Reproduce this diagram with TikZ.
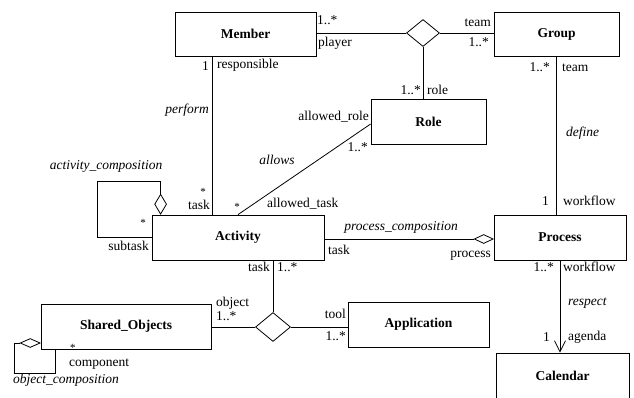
\documentclass[tikz,border=0pt]{standalone}
\usepackage{fontspec}
\setmainfont{Liberation Serif}
\usetikzlibrary{shapes.geometric,arrows.meta,calc}
\begin{document}
\begin{tikzpicture}[x=1pt,y=-1pt,
  cls/.style={draw,line width=0.8pt,inner sep=0pt,font=\fontsize{13.5}{15}\selectfont\bfseries},
  lbl/.style={inner sep=0pt,font=\fontsize{13.5}{15}\selectfont,text height=8pt,text depth=2pt},
  ilbl/.style={lbl,font=\fontsize{13.5}{15}\selectfont\itshape},
  star/.style={inner sep=0pt,font=\fontsize{11}{12}\selectfont},
  ln/.style={line width=0.8pt},
  tern/.style={draw,diamond,line width=0.8pt,inner sep=0pt,minimum width=33pt,minimum height=27pt},
  agg/.style={draw,diamond,line width=0.8pt,inner sep=0pt,fill=white}]
\useasboundingbox (0,0) rectangle (634,397);
% classes
\node[cls,minimum width=141pt,minimum height=44pt] (member) at (245.5,34) {Member};
\node[cls,minimum width=125pt,minimum height=44pt] (group) at (556.5,34) {Group};
\node[cls,minimum width=115pt,minimum height=45pt] (role) at (428.5,121.5) {Role};
\node[cls,minimum width=172pt,minimum height=45pt] (activity) at (238,237.5) {Activity};
\node[cls,minimum width=132pt,minimum height=45pt] (process) at (560,237.5) {Process};
\node[cls,minimum width=170pt,minimum height=45pt] (shared) at (126,326.5) {Shared\_Objects};
\node[cls,minimum width=141pt,minimum height=45pt] (app) at (418.5,324.5) {Application};
\node[cls,minimum width=133pt,minimum height=45pt] (calendar) at (562.5,375.5) {Calendar};
% ternary associations
\node[tern] (d1) at (423,33) {};
\node[tern,minimum width=35pt,minimum height=29pt] (d2) at (273,327) {};
\draw[ln] (member.east |- d1) -- (d1.west);
\draw[ln] (d1.east) -- (group.west |- d1);
\draw[ln] (d1.south) -- (role.north -| d1);
\draw[ln] (d2.north) -- (activity.south -| d2);
\draw[ln] (shared.east |- d2) -- (d2.west);
\draw[ln] (d2.east) -- (app.west |- d2);
% binary associations
\draw[ln] (group.south -| 556,0) coordinate (gp) -- (process.north -| gp);
\coordinate (ma) at ([xshift=-33.5pt]member.south);
\draw[ln] (ma) -- (activity.north -| ma);
\draw[ln] (activity.north) -- ([yshift=-2.5pt]role.west);
\draw[ln,-{Straight Barb[length=11pt,width=11pt]}] (process.south) -- (calendar.north -| process.south);
% aggregations
\node[agg,minimum width=19pt,minimum height=9pt,anchor=east] (pc) at ([yshift=-1.5pt]process.west) {};
\draw[ln] (activity.east |- pc) -- (pc.west);
\node[agg,minimum width=12pt,minimum height=20pt,anchor=south] (ac) at ([xshift=9pt]activity.north west) {};
\coordinate (acl) at (97,181);
\draw[ln] (ac.north) |- (acl) |- (activity.west);
\node[agg,minimum width=20pt,minimum height=9pt,anchor=east] (oc) at ([yshift=-16.5pt]shared.west) {};
\coordinate (ocb) at (14,373);
\draw[ln] (oc.west) -| (ocb) -| ([xshift=-71pt]shared.south);
% labels
\node[lbl,anchor=west] (l1) at (317,21) {1..*};
\node[lbl,anchor=west] (l2) at (318,43) {player};
\node[lbl,anchor=east] (l3) at (491,23) {team};
\node[lbl,anchor=east] (l4) at (489,43) {1..*};
\node[lbl,anchor=east] (l5) at (550,68) {1..*};
\node[lbl,anchor=west] (l6) at (562,68) {team};
\node[lbl,anchor=east] (l7) at (421,91) {1..*};
\node[lbl,anchor=west] (l8) at (427,91) {role};
\node[lbl,anchor=east] (l9) at (369,117) {allowed\_role};
\node[ilbl,anchor=west] (l10) at (566,133) {define};
\node[lbl,anchor=east] (l11) at (368,148) {1..*};
\node[lbl,anchor=east] (l12) at (209,67) {1};
\node[lbl,anchor=west] (l13) at (217,65) {responsible};
\node[ilbl,anchor=east] (l14) at (209,110) {perform};
\node[ilbl] (l15) at (277,161) {allows};
\node[star,anchor=east] (l16) at (206,192) {*};
\node[lbl,anchor=east] (l17) at (210,206) {task};
\node[star] (l18) at (237,207) {*};
\node[lbl,anchor=west] (l19) at (267,204) {allowed\_task};
\node[ilbl] (l20) at (106,166) {activity\_composition};
\node[star] (l21) at (143,223) {*};
\node[lbl,anchor=east] (l22) at (149,247) {subtask};
\node[lbl,anchor=east] (l23) at (270,268) {task};
\node[lbl,anchor=west] (l24) at (277,268) {1..*};
\node[ilbl] (l25) at (401,227) {process\_composition};
\node[lbl,anchor=west] (l26) at (328,251) {task};
\node[lbl,anchor=east] (l27) at (491,254) {process};
\node[lbl,anchor=east] (l28) at (549,202) {1};
\node[lbl,anchor=west] (l29) at (563,202) {workflow};
\node[lbl,anchor=east] (l30) at (554,268) {1..*};
\node[lbl,anchor=west] (l31) at (563,268) {workflow};
\node[ilbl,anchor=west] (l32) at (568,302) {respect};
\node[lbl,anchor=east] (l33) at (550,338) {1};
\node[lbl,anchor=west] (l34) at (568,337) {agenda};
\node[lbl,anchor=west] (l35) at (216,303) {object};
\node[lbl,anchor=west] (l36) at (216,317) {1..*};
\node[lbl,anchor=east] (l37) at (346,315) {tool};
\node[lbl,anchor=east] (l38) at (346,337) {1..*};
\node[star,anchor=west] (l39) at (70,348) {*};
\node[lbl,anchor=west] (l40) at (69,363) {component};
\node[ilbl,anchor=west] (l41) at (13,380) {object\_composition};
\end{tikzpicture}
\end{document}
